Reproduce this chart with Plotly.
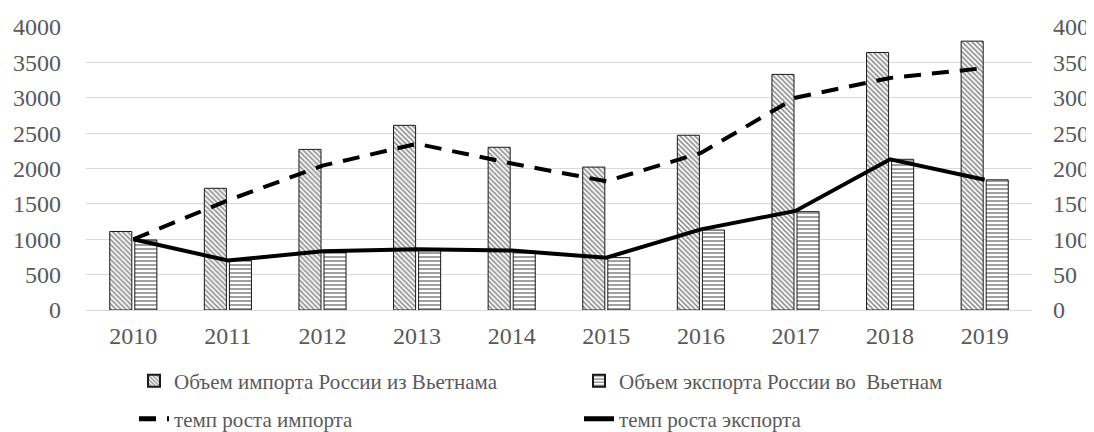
import plotly.graph_objects as go

years = ["2010", "2011", "2012", "2013", "2014", "2015", "2016", "2017", "2018", "2019"]
import_volume = [1110, 1720, 2270, 2610, 2300, 2020, 2470, 3330, 3640, 3800]
export_volume = [990, 700, 820, 850, 830, 740, 1130, 1390, 2130, 1840]
import_growth = [100, 155, 204, 235, 207, 182, 222, 300, 328, 342]
export_growth = [100, 70, 83, 86, 84, 74, 114, 140, 213, 184]

names = [
    "Объем импорта России из Вьетнама",
    "Объем экспорта России во  Вьетнам",
    "темп роста импорта",
    "темп роста экспорта",
]

FONT = "Liberation Serif"
GRAY = "#595959"
W, H = 1094, 432
TICK = dict(family=FONT, size=24, color=GRAY)

fig = go.Figure()
fig.add_trace(go.Bar(
    x=years, y=import_volume, name=names[0], legend="legend",
    marker=dict(color="white", line=dict(color="#1a1a1a", width=1),
                pattern=dict(shape="\\", fgcolor="#1a1a1a", bgcolor="white", size=3.5, solidity=0.45)),
))
fig.add_trace(go.Bar(
    x=years, y=export_volume, name=names[1], legend="legend2",
    marker=dict(color="white", line=dict(color="#1a1a1a", width=1),
                pattern=dict(shape="-", fgcolor="#111111", bgcolor="white", size=4, solidity=0.4)),
))
fig.add_trace(go.Scatter(
    x=years, y=import_growth, name=names[2], legend="legend3", yaxis="y2", mode="lines",
    line=dict(color="black", width=4, dash="17px,11px"),
))
fig.add_trace(go.Scatter(
    x=years, y=export_growth, name=names[3], legend="legend4", yaxis="y2", mode="lines",
    line=dict(color="black", width=4),
))

def leg(xpx, ypx):
    return dict(x=xpx / W, y=1 - ypx / H, xref="container", yref="container",
                xanchor="left", yanchor="middle", orientation="h",
                font=dict(family=FONT, size=21, color=GRAY), bgcolor="rgba(0,0,0,0)",
                itemsizing="constant")

fig.update_layout(
    width=W, height=H,
    margin=dict(l=78, r=70, t=19, b=130, autoexpand=False),
    paper_bgcolor="white", plot_bgcolor="white",
    font=dict(family=FONT, size=22, color=GRAY),
    barmode="group", bargap=0.47, bargroupgap=0.12,
    showlegend=True,
    legend=leg(126, 373),
    legend2=leg(571, 373),
    legend3=leg(126, 411),
    legend4=leg(571, 411),
    xaxis=dict(showgrid=False, showline=True, linecolor="#d9d9d9", linewidth=1, automargin=False,
               ticks="", tickfont=TICK, ticklabelstandoff=4),
    yaxis=dict(range=[0, 4000], dtick=500, showgrid=True, gridcolor="#d9d9d9", gridwidth=1,
               zeroline=False, showline=False, ticks="", automargin=False,
               tickfont=TICK, ticklabelstandoff=24),
    yaxis2=dict(range=[0, 400], dtick=50, overlaying="y", side="right", showgrid=False,
                zeroline=False, showline=False, ticks="", automargin=False,
                tickfont=TICK, ticklabelstandoff=20),
)

fig.write_html("out.html")
